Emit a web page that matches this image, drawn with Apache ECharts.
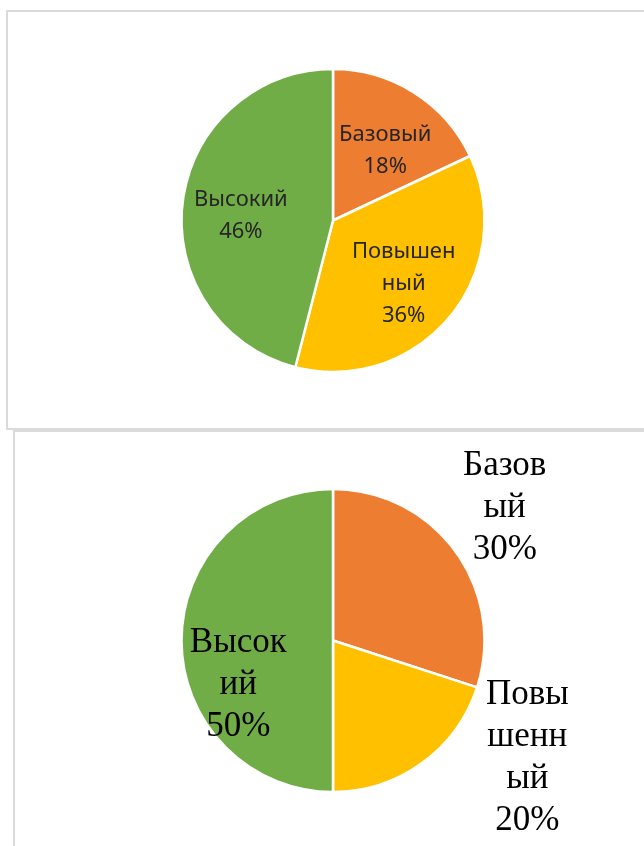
<!DOCTYPE html>
<html>
<head>
<meta charset="utf-8">
<script src="https://cdn.jsdelivr.net/npm/echarts@6/dist/echarts.min.js"></script>
<style>
  html, body { margin: 0; padding: 0; background: #fff; }
  #wrap { position: relative; width: 644px; height: 846px; overflow: hidden; }
  #chart { position: absolute; left: 0; top: 0; width: 644px; height: 846px; }
  .box { position: absolute; border: 2px solid #dadada; box-sizing: border-box; }
</style>
</head>
<body>
<div id="wrap">
  <div class="box" style="left:6px; top:10px; width:660px; height:420px;"></div>
  <div class="box" style="left:13px; top:430px; width:660px; height:440px;"></div>
  <div id="chart"></div>
</div>
<script>
// categories and shares (%) for both charts
const categories = ['Базовый', 'Повышенный', 'Высокий'];
const colors = ['#ED7D31', '#FFC000', '#70AD47'];

const topValues = [18, 36, 46];
const topLabels = ['Базовый', 'Повышен\nный', 'Высокий'];

const bottomValues = [30, 20, 50];
const bottomLabels = ['Базов\nый', 'Повы\nшенн\nый', 'Высок\nий'];

// label nudges from the default inside position (px)
const topShift = [[10, -3], [10, 13], [-14, 5]];
const bottomShift = [[108, -86], [148, 54], [-16, 44]];

function pieData(values) {
  return values.map((v, i) => ({
    name: categories[i],
    value: v,
    itemStyle: { color: colors[i] }
  }));
}

function shiftBy(table) {
  return function (params) {
    const d = table[params.dataIndex];
    return { dx: d[0], dy: d[1] };
  };
}

const chart = echarts.init(document.getElementById('chart'), null, { renderer: 'canvas' });

chart.setOption({
  animation: false,
  series: [
    {
      type: 'pie',
      center: [333, 220.5],
      radius: 151.5,
      startAngle: 90,
      clockwise: true,
      avoidLabelOverlap: false,
      silent: true,
      itemStyle: { borderColor: '#fff', borderWidth: 2.5 },
      label: {
        position: 'inside',
        fontFamily: 'Noto Sans',
        fontSize: 22,
        lineHeight: 32,
        color: '#262626',
        formatter: p => topLabels[p.dataIndex] + '\n' + p.value + '%'
      },
      labelLine: { show: false },
      labelLayout: shiftBy(topShift),
      data: pieData(topValues)
    },
    {
      type: 'pie',
      center: [333, 640.5],
      radius: 151.5,
      startAngle: 90,
      clockwise: true,
      avoidLabelOverlap: false,
      silent: true,
      itemStyle: { borderColor: '#fff', borderWidth: 2.5 },
      label: {
        position: 'inside',
        fontFamily: 'Liberation Serif',
        fontSize: 35,
        lineHeight: 42,
        color: '#000',
        formatter: p => bottomLabels[p.dataIndex] + '\n' + p.value + '%'
      },
      labelLine: { show: false },
      labelLayout: shiftBy(bottomShift),
      data: pieData(bottomValues)
    }
  ]
});
</script>
</body>
</html>
